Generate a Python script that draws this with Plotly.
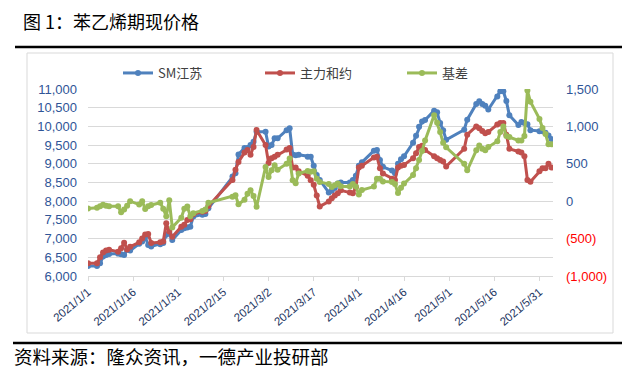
import plotly.graph_objects as go

dates = [
    "2021-01-01", "2021-01-04", "2021-01-05", "2021-01-06", "2021-01-07", "2021-01-08",
    "2021-01-11", "2021-01-12", "2021-01-13", "2021-01-14", "2021-01-15",
    "2021-01-18", "2021-01-19", "2021-01-20", "2021-01-21", "2021-01-22",
    "2021-01-25", "2021-01-26", "2021-01-27", "2021-01-28", "2021-01-29",
    "2021-02-01", "2021-02-02", "2021-02-03", "2021-02-04", "2021-02-05",
    "2021-02-08", "2021-02-09", "2021-02-10",
    "2021-02-18", "2021-02-19", "2021-02-20",
    "2021-02-22", "2021-02-23", "2021-02-24", "2021-02-25", "2021-02-26",
    "2021-03-01", "2021-03-02", "2021-03-03", "2021-03-04", "2021-03-05",
    "2021-03-08", "2021-03-09", "2021-03-10", "2021-03-11", "2021-03-12",
    "2021-03-15", "2021-03-16", "2021-03-17", "2021-03-18", "2021-03-19",
    "2021-03-22", "2021-03-23", "2021-03-24", "2021-03-25", "2021-03-26",
    "2021-03-29", "2021-03-30", "2021-03-31", "2021-04-01", "2021-04-02",
    "2021-04-06", "2021-04-07", "2021-04-08", "2021-04-09",
    "2021-04-12", "2021-04-13", "2021-04-14", "2021-04-15", "2021-04-16",
    "2021-04-19", "2021-04-20", "2021-04-21", "2021-04-22", "2021-04-23",
    "2021-04-26", "2021-04-27", "2021-04-28", "2021-04-29", "2021-04-30",
    "2021-05-06", "2021-05-07",
    "2021-05-10", "2021-05-11", "2021-05-12", "2021-05-13", "2021-05-14",
    "2021-05-17", "2021-05-18", "2021-05-19", "2021-05-20", "2021-05-21",
    "2021-05-24", "2021-05-25", "2021-05-26", "2021-05-27", "2021-05-28",
    "2021-05-31", "2021-06-01", "2021-06-02", "2021-06-03", "2021-06-04",
]

sm_jiangsu = [
    6270, 6270, 6340, 6520, 6560, 6590,
    6600, 6580, 6560, 6700, 6680,
    6860, 6920, 7050, 6830, 6790,
    6850, 6880, 7100, 7140, 6960,
    7230, 7280, 7300, 7320, 7590,
    7640, 7660, 7810,
    8660, 8750, 9250,
    9420, 9420, 9500, 9590, 9860,
    9860, 9460, 9500, 9680, 9680,
    9900, 9950, 9250, 9230, 9240,
    9190, 9190, 8950, 8700, 8570,
    8230, 8280, 8350, 8470, 8500,
    8500, 8570, 8680, 8950, 9040,
    9350, 9370, 9100, 8920,
    8820, 8750, 9000, 9120, 9200,
    9560, 9750, 9990, 10130, 10170,
    10420, 10380, 10090, 9900, 9640,
    9910, 10180,
    10600, 10670, 10600, 10550, 10450,
    10800, 10940, 10940, 10680, 10300,
    10040, 10120, 10090, 10060, 9900,
    9870, 9870, 9830, 9760, 9660,
]

main_contract = [
    6340, 6340, 6500, 6630, 6680, 6700,
    6650, 6740, 6890, 6710, 6780,
    6900, 7000, 7110, 7125, 6880,
    6900, 6920, 7410, 7190, 7050,
    7320, 7370, 7500, 7520, 7650,
    7720, 7740, 7870,
    8570, 8840, 9050,
    9300, 9370, 9240, 9450, 9905,
    9500, 9020, 9150, 9190, 9240,
    9380, 9420, 8900, 8900, 8800,
    8680, 8560, 8440, 8150, 7860,
    7990, 8080, 8150, 8210, 8290,
    8230, 8210, 8370, 8900, 8950,
    9170, 9190, 8880, 8740,
    8600, 8570, 8900, 8950, 8970,
    9150, 9280, 9450, 9480, 9370,
    9200, 9150, 9100, 9060, 8930,
    9400, 9780,
    10000, 9950, 9880, 9820, 9850,
    10050, 10090, 10090, 9780, 9400,
    9330, 9300, 9200, 8570, 8520,
    8800, 8880, 8880, 9000, 8900,
]

basis = [
    -98, -89, -67, -49, -60, -67,
    -67, -147, -110, -60, 0,
    -45, 0, -103, -67, -50,
    -20, -100, -200, 13, -350,
    -220, -100, -70, -200, -160,
    -130, -112, -20,
    60, 80, -40,
    20, 100, 147, 70, -75,
    457, 324, 413, 480, 420,
    500, 570, 280, 240, 370,
    405, 395, 400, 300, 257,
    230, 190, 213, 235, 200,
    195, 230, 195, 90, 150,
    195, 300, 300, 265,
    257, 230, 110, 180, 235,
    350, 440, 550, 670, 813,
    1150, 1050, 924, 780, 720,
    500, 413,
    680, 746, 700, 680, 724,
    800, 924, 1000, 870, 857,
    813, 813, 870, 1479, 1330,
    1100, 980, 900, 760, 760,
]

tick_dates = ["2021-01-01", "2021-01-16", "2021-01-31", "2021-02-15", "2021-03-02",
              "2021-03-17", "2021-04-01", "2021-04-16", "2021-05-01", "2021-05-16",
              "2021-05-31"]
tick_labels = ["2021/1/1", "2021/1/16", "2021/1/31", "2021/2/15", "2021/3/2",
               "2021/3/17", "2021/4/1", "2021/4/16", "2021/5/1", "2021/5/16",
               "2021/5/31"]

left_ticks = [6000, 6500, 7000, 7500, 8000, 8500, 9000, 9500, 10000, 10500, 11000]
right_ticks = [-1000, -500, 0, 500, 1000, 1500]
right_labels = ['<span style="color:#FF0000">(1,000)</span>',
                '<span style="color:#FF0000">(500)</span>',
                "0", "500", "1,000", "1,500"]

BLUE = "#4F81BD"
RED = "#C0504D"
GREEN = "#9BBB59"
GRID = "#D9D9D9"
FONT = "Noto Sans CJK SC, Liberation Sans, sans-serif"

fig = go.Figure()
fig.add_trace(go.Scatter(x=dates, y=sm_jiangsu, name="SM江苏", mode="lines+markers",
                         line=dict(color=BLUE, width=3), marker=dict(size=6, color=BLUE)))
fig.add_trace(go.Scatter(x=dates, y=main_contract, name="主力和约", mode="lines+markers",
                         line=dict(color=RED, width=3), marker=dict(size=6, color=RED)))
fig.add_trace(go.Scatter(x=dates, y=basis, name="基差", mode="lines+markers", yaxis="y2",
                         line=dict(color=GREEN, width=3), marker=dict(size=6, color=GREEN)))

# layout geometry helpers (plot area: x 88..553, y 89..276 px)
L, R, T, B = 88, 553, 89, 276
def px(x):
    return (x - L) / (R - L)
def py(y):
    return (B - y) / (B - T)

fig.update_layout(
    width=632, height=373,
    margin=dict(l=L, r=632 - R, t=T, b=373 - B, autoexpand=False),
    paper_bgcolor="white", plot_bgcolor="white",
    font=dict(family=FONT, color="#404040"),
    showlegend=True,
    legend=dict(orientation="h", x=px(118), y=py(73), xanchor="left", yanchor="middle",
                font=dict(size=13, color="#404040", family=FONT),
                bgcolor="rgba(0,0,0,0)", entrywidth=97, entrywidthmode="pixels",
                itemclick=False),
    xaxis=dict(type="date", range=["2021-01-01", "2021-06-04 12:00"],
               tickvals=tick_dates, ticktext=tick_labels, tickangle=-40,
               tickfont=dict(size=11.5, color="#1F3864", family="Liberation Sans, Arial"),
               showgrid=False, showline=True, linecolor=GRID, linewidth=1,
               ticks="outside", ticklen=4, tickcolor=GRID, zeroline=False, automargin=False),
    yaxis=dict(range=[6000, 11000], tickvals=left_ticks, tickformat=",",
               tickfont=dict(size=13, color="#2F5597", family="Liberation Sans, Arial"),
               showgrid=True, gridcolor=GRID, gridwidth=1, zeroline=False,
               showline=False, ticklabelstandoff=10, automargin=False),
    yaxis2=dict(range=[-1000, 1500], tickvals=right_ticks, ticktext=right_labels,
                overlaying="y", side="right", showgrid=False, zeroline=False,
                tickfont=dict(size=13, color="#2F5597", family="Liberation Sans, Arial"),
                ticklabelstandoff=12, automargin=False),
    shapes=[
        dict(type="rect", xref="paper", yref="paper", x0=px(27), x1=px(613), y0=py(333), y1=py(53),
             line=dict(color=GRID, width=1), layer="below"),
        dict(type="line", xref="paper", yref="paper", x0=px(15), x1=px(622), y0=py(47), y1=py(47),
             line=dict(color="black", width=2.5)),
        dict(type="line", xref="paper", yref="paper", x0=px(13), x1=px(622), y0=py(343), y1=py(343),
             line=dict(color="black", width=2.5)),
    ],
    annotations=[
        dict(text="图 1：苯乙烯期现价格", xref="paper", yref="paper", x=px(21), y=py(21),
             xanchor="left", yanchor="middle", showarrow=False,
             font=dict(size=18, color="black", family=FONT)),
        dict(text="资料来源：隆众资讯，一德产业投研部", xref="paper", yref="paper", x=px(12), y=py(356),
             xanchor="left", yanchor="middle", showarrow=False,
             font=dict(size=18.5, color="black", family=FONT)),
    ],
)

fig.write_html("out.html", config={"displayModeBar": False},
               post_script="document.body.style.margin='0';document.body.style.overflow='hidden';")
